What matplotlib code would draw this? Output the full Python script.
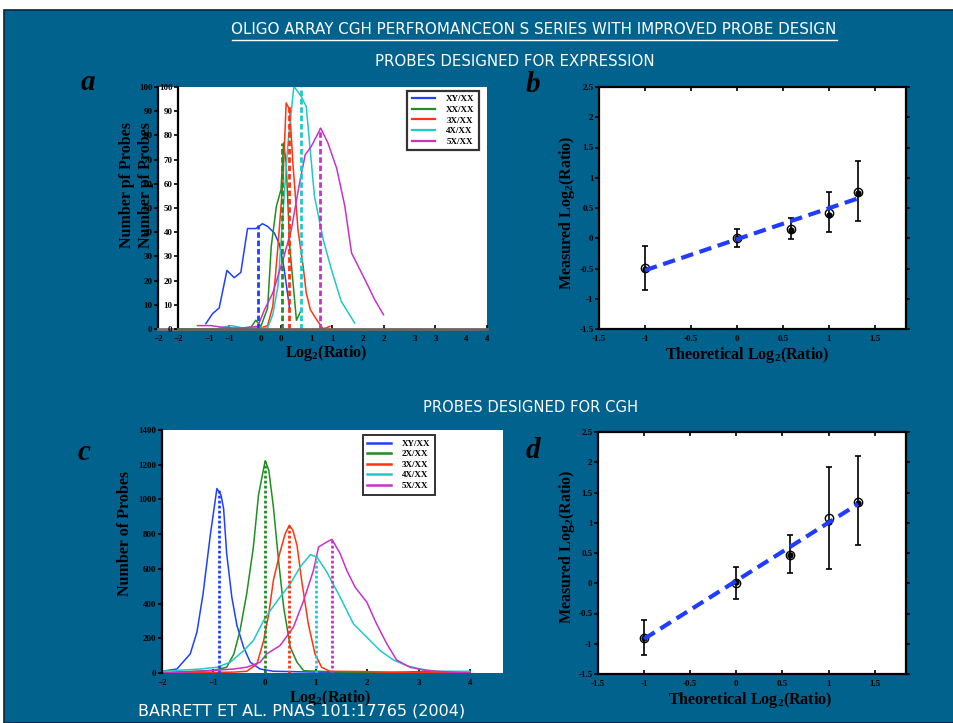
import numpy as np
import matplotlib
matplotlib.use('Agg')
import matplotlib.pyplot as plt
from matplotlib.patches import Rectangle
from matplotlib.ticker import FuncFormatter

# ---- data ----
# a: probes designed for expression (log2 ratio histograms)
a_labels = ['XY/XX', 'XX/XX', '3X/XX', '4X/XX', '5X/XX']
a_xy_x = [-1.46, -1.33, -1.2, -1.05, -0.91, -0.78, -0.65, -0.49, -0.36, -0.26, -0.13, -0.03, 0.06, 0.17]
a_xy_y = [2.2, 6.3, 8.7, 24.2, 21.2, 23.4, 41.5, 41.5, 43.5, 42.4, 39.7, 35.0, 25.0, 8.0]
a_xx_x = [-2.0, -1.0, -0.58, -0.49, -0.39, -0.26, -0.19, -0.09, 0.0, 0.05, 0.1, 0.17, 0.23, 0.3, 0.38]
a_xx_y = [0, 0, 0.8, 3.6, 1.1, 8.7, 34, 50.7, 57.6, 76.9, 68.6, 34, 20, 3.6, 7.3]
a_3x_x = [-0.45, -0.26, -0.16, -0.06, 0.04, 0.1, 0.17, 0.23, 0.33, 0.43, 0.49, 0.57, 0.69, 0.82, 0.95]
a_3x_y = [0, 1.4, 9.4, 34, 61.7, 93.4, 90.6, 68.6, 41, 25.9, 14.9, 8, 3.9, 0, 1.1]
a_4x_x = [-1.2, -0.97, -0.7, -0.45, -0.26, -0.16, -0.06, 0.04, 0.13, 0.25, 0.39, 0.49, 0.65, 0.82, 0.98, 1.17, 1.43]
a_4x_y = [0.3, 1.4, 0.3, 0.5, 0.4, 5.9, 17.6, 47.9, 75.5, 100.3, 96.1, 92, 54.8, 36.9, 24.5, 11.4, 2.5]
a_5x_x = [-1.62, -1.36, -1.17, -0.91, -0.71, -0.45, -0.32, -0.16, 0.04, 0.2, 0.36, 0.47, 0.59, 0.77,
          0.91, 1.08, 1.24, 1.37, 1.63, 1.82, 1.99]
a_5x_y = [1.4, 1.4, 0.8, 0.4, 0.4, 1.1, 8, 14.9, 28.7, 41, 60.3, 72, 75.5, 83,
          76.9, 66.5, 50.7, 31.4, 20.4, 12.1, 5.9]
a_peak_x = [-0.45, 0.01, 0.165, 0.39, 0.76]
a_peak_y = [43, 77, 93, 100, 83]

# c: probes designed for CGH
c_labels = ['XY/XX', '2X/XX', '3X/XX', '4X/XX', '5X/XX']
c_xy_x = [-2.0, -1.71, -1.45, -1.32, -1.2, -1.06, -0.93, -0.85, -0.8, -0.74, -0.64, -0.54, -0.41,
          -0.28, -0.09, 0.17, 1.0, 2.0, 3.0, 4.0]
c_xy_y = [10, 23, 110, 235, 456, 793, 1063, 1025, 947, 688, 437, 273, 148, 62, 23, 10, 5, 3, 2, 2]
c_2x_x = [-2.0, -1.0, -0.74, -0.6, -0.48, -0.35, -0.22, -0.12, 0.01, 0.08, 0.17, 0.27, 0.37, 0.5,
          0.63, 0.76, 1.5, 2.5, 3.0, 4.0]
c_2x_y = [2, 15, 33, 110, 245, 456, 726, 1025, 1223, 1169, 957, 649, 379, 148, 62, 13, 5, 3, 8, 3]
c_3x_x = [-2.0, -0.6, -0.35, -0.15, -0.02, 0.08, 0.17, 0.3, 0.4, 0.48, 0.55, 0.63, 0.72, 0.85,
          0.98, 1.11, 1.27, 2.0, 2.3, 3.0, 4.0]
c_3x_y = [0, 5, 10, 52, 187, 341, 534, 697, 803, 851, 822, 736, 534, 283, 110, 33, 10, 8, 5, 3, 2]
c_4x_x = [-2.0, -1.25, -0.93, -0.67, -0.41, -0.22, -0.02, 0.11, 0.3, 0.5, 0.69, 0.89, 1.02, 1.21,
          1.47, 1.73, 1.99, 2.25, 2.51, 2.77, 3.03, 3.35, 4.0]
c_4x_y = [10, 23, 33, 62, 129, 187, 302, 360, 437, 514, 610, 682, 668, 582,
          437, 283, 206, 129, 75, 42, 23, 10, 10]
c_5x_x = [-2.0, -1.25, -0.6, -0.35, -0.09, 0.04, 0.3, 0.56, 0.76, 0.95, 1.05, 1.21, 1.31, 1.47,
          1.6, 1.76, 1.99, 2.18, 2.38, 2.57, 2.83, 3.16, 4.0]
c_5x_y = [0, 10, 23, 33, 62, 110, 158, 264, 418, 591, 726, 755, 770, 688,
          591, 495, 408, 283, 168, 75, 33, 13, 0]
c_peak_x = [-0.88, 0.0, 0.47, 1.0, 1.32]
c_peak_y = [1065, 1220, 850, 680, 770]

# b, d: measured vs theoretical log2 ratio
theory_x = [-1, 0, 0.585, 1, 1.32]
b_mean = [-0.49, 0.01, 0.16, 0.42, 0.77]
b_dot = [-0.50, 0.01, 0.14, 0.38, 0.74]
b_lo = [-0.86, -0.14, -0.02, 0.10, 0.29]
b_hi = [-0.12, 0.16, 0.34, 0.76, 1.27]
b_fit = [-0.53, 0.66]
d_mean = [-0.90, 0.0, 0.47, 1.08, 1.35]
d_dot = [-0.90, 0.02, 0.46, 1.02, 1.33]
d_lo = [-1.19, -0.26, 0.17, 0.23, 0.64]
d_hi = [-0.61, 0.27, 0.79, 1.92, 2.10]
d_fit = [-0.92, 1.31]

colors = ['#2040ff', '#1f8f1f', '#ff3410', '#22c8c8', '#c832c8']
BG = '#01628e'
FIT = '#1f3cff'

plt.rcParams['font.family'] = ['Liberation Serif', 'DejaVu Serif']
plt.rcParams['font.weight'] = 'bold'
plt.rcParams['mathtext.fontset'] = 'custom'
plt.rcParams['mathtext.rm'] = 'Liberation Serif:bold'
plt.rcParams['mathtext.bf'] = 'Liberation Serif:bold'
plt.rcParams['mathtext.default'] = 'bf'

W, H = 954, 723
fig = plt.figure(figsize=(W / 100, H / 100), dpi=100, facecolor='white')


def px_box(l, t, r, b):
    return [l / W, 1 - b / H, (r - l) / W, (b - t) / H]


def ftext(x, y, s, **kw):
    fig.text(x / W, 1 - y / H, s, **kw)


fig.add_artist(Rectangle((4 / W, 0), 1, (H - 10) / H, transform=fig.transFigure,
                         facecolor=BG, edgecolor='#0b2533', lw=1.2, zorder=-10))

SANS = ['DejaVu Sans']
ftext(534, 30, 'OLIGO ARRAY CGH PERFROMANCEON S SERIES WITH IMPROVED PROBE DESIGN',
      family=SANS, weight='normal', color='white', fontsize=10.9, ha='center', va='center')
fig.add_artist(plt.Line2D([232 / W, 837 / W], [1 - 39.5 / H, 1 - 39.5 / H],
                          transform=fig.transFigure, color='white', lw=1))
ftext(515, 62, 'PROBES DESIGNED FOR EXPRESSION', family=SANS, weight='normal',
      color='white', fontsize=10.8, ha='center', va='center')
ftext(531, 408, 'PROBES DESIGNED FOR CGH', family=SANS, weight='normal',
      color='white', fontsize=10.6, ha='center', va='center')

for x, y, s in [(88, 82, 'a'), (533, 84, 'b'), (84, 452, 'c'), (533, 450, 'd')]:
    ftext(x, y, s, style='italic', fontsize=21, ha='center', va='center')

fmt_g = FuncFormatter(lambda v, p: '%g' % v)


def hist_axes(box, ylim, yticks, xlim):
    ax = fig.add_axes(px_box(*box), facecolor='white')
    ax.set_xlim(*xlim)
    ax.set_ylim(*ylim)
    ax.set_xticks(range(-2, 5))
    ax.set_yticks(yticks)
    for s in ['top', 'right']:
        ax.spines[s].set_visible(False)
    ax.spines['left'].set_linewidth(1.6)
    ax.tick_params(axis='y', direction='out', length=3, width=1.2, labelsize=6.5, pad=1)
    ax.tick_params(axis='x', direction='in', length=3, width=1.2, labelsize=6.5, pad=4)
    return ax


# ---- panel a: two overlapping copies of the same axes ----
a_series = [(a_xy_x, a_xy_y), (a_xx_x, a_xx_y), (a_3x_x, a_3x_y), (a_4x_x, a_4x_y), (a_5x_x, a_5x_y)]
ax_back = hist_axes((158, 87, 466, 329), (0, 100), range(0, 101, 10), (-2, 4))
ax_back.spines['bottom'].set_color('#777777')
ax_back.spines['bottom'].set_linewidth(2)
ax_a = hist_axes((178, 87, 487, 329), (0, 100), range(0, 101, 10), (-2, 4))
ax_a.spines['bottom'].set_color('#666666')
ax_a.spines['bottom'].set_linewidth(2)
for (xs, ys), c, lab in zip(a_series, colors, a_labels):
    ax_a.plot(xs, ys, color=c, lw=1.1, label=lab)
for px, py, c in zip(a_peak_x, a_peak_y, colors):
    ax_a.plot([px, px], [0, py], color=c, lw=2, ls=(0, (2, 1)))
leg = ax_a.legend(loc='upper right', bbox_to_anchor=(0.975, 0.985), fontsize=6.5,
                  frameon=True, fancybox=False, edgecolor='black', handlelength=2.6,
                  borderpad=0.5, labelspacing=0.25, handletextpad=1.2, borderaxespad=0)
leg.get_frame().set_linewidth(1.6)
for ln in leg.get_lines():
    ln.set_linewidth(1.6)
ftext(127, 185, 'Number pf Probes', rotation=90, fontsize=11.5, ha='center', va='center')
ftext(146, 185, 'Number pf Probes', rotation=90, fontsize=11.5, ha='center', va='center')
ftext(326, 353, r'Log$_2$(Ratio)', fontsize=11.5, ha='center', va='center')

# ---- panel c ----
c_series = [(c_xy_x, c_xy_y), (c_2x_x, c_2x_y), (c_3x_x, c_3x_y), (c_4x_x, c_4x_y), (c_5x_x, c_5x_y)]
ax_c = hist_axes((162, 430, 503, 673), (0, 1400), range(0, 1401, 200), (-2, 4 + 33 / 51.33))
ax_c.spines['bottom'].set_visible(False)
for (xs, ys), c, lab in zip(c_series, colors, c_labels):
    ax_c.plot(xs, ys, color=c, lw=1.1, label=lab)
for px, py, c in zip(c_peak_x, c_peak_y, colors):
    ax_c.plot([px, px], [0, py], color=c, lw=2, ls=(0, (1, 0.8)))
leg = ax_c.legend(loc='upper right', bbox_to_anchor=(0.80, 0.98), fontsize=6.5,
                  frameon=True, fancybox=False, edgecolor='black', handlelength=2.6,
                  borderpad=0.5, labelspacing=0.25, handletextpad=1.2, borderaxespad=0)
leg.get_frame().set_linewidth(1.4)
for ln in leg.get_lines():
    ln.set_linewidth(1.8)
ftext(125, 533, 'Number of Probes', rotation=90, fontsize=11.5, ha='center', va='center')
ftext(330, 698, r'Log$_2$(Ratio)', fontsize=11.5, ha='center', va='center')


# ---- panels b, d ----
def scatter_axes(box, mean, dot, lo, hi, fit, lab_y, xlab_y, xlab_x):
    ax = fig.add_axes(px_box(*box), facecolor='white')
    ax.set_xlim(-1.5, 1.84)
    ax.set_ylim(-1.5, 2.5)
    ax.set_xticks(np.arange(-1.5, 1.6, 0.5))
    ax.set_yticks(np.arange(-1.5, 2.6, 0.5))
    ax.xaxis.set_major_formatter(fmt_g)
    ax.yaxis.set_major_formatter(fmt_g)
    for s in ax.spines.values():
        s.set_linewidth(1.6)
    ax.tick_params(direction='in', length=3, width=1.2, labelsize=6.5, top=True, right=True)
    ax.tick_params(axis='y', direction='out', pad=1)
    ax.tick_params(axis='x', pad=4)
    m = np.array(mean)
    ax.errorbar(theory_x, m, yerr=[m - np.array(lo), np.array(hi) - m], fmt='none',
                ecolor='black', elinewidth=1.2, capsize=2, capthick=1.2)
    ax.plot(theory_x, dot, 'o', color='black', ms=3.5)
    ax.plot(theory_x, mean, 'o', mfc='none', mec='black', ms=6, mew=1)
    ax.plot([theory_x[0], theory_x[-1]], fit, color=FIT, lw=3, ls=(0, (3, 1.6)))
    ftext(567, lab_y, r'Measured Log$_2$(Ratio)', rotation=90, fontsize=11.5,
          ha='center', va='center')
    ftext(xlab_x, xlab_y, r'Theoretical Log$_2$(Ratio)', fontsize=11.5, ha='center', va='center')
    return ax


scatter_axes((599, 87, 906, 329), b_mean, b_dot, b_lo, b_hi, b_fit, 213, 355, 747)
scatter_axes((598, 432, 906, 674), d_mean, d_dot, d_lo, d_hi, d_fit, 547, 700, 750)

ftext(302, 711, 'BARRETT ET AL. PNAS 101:17765 (2004)', family=SANS, weight='normal',
      color='white', fontsize=11.5, ha='center', va='center')

fig.savefig('out.png', dpi=100, facecolor=fig.get_facecolor())
